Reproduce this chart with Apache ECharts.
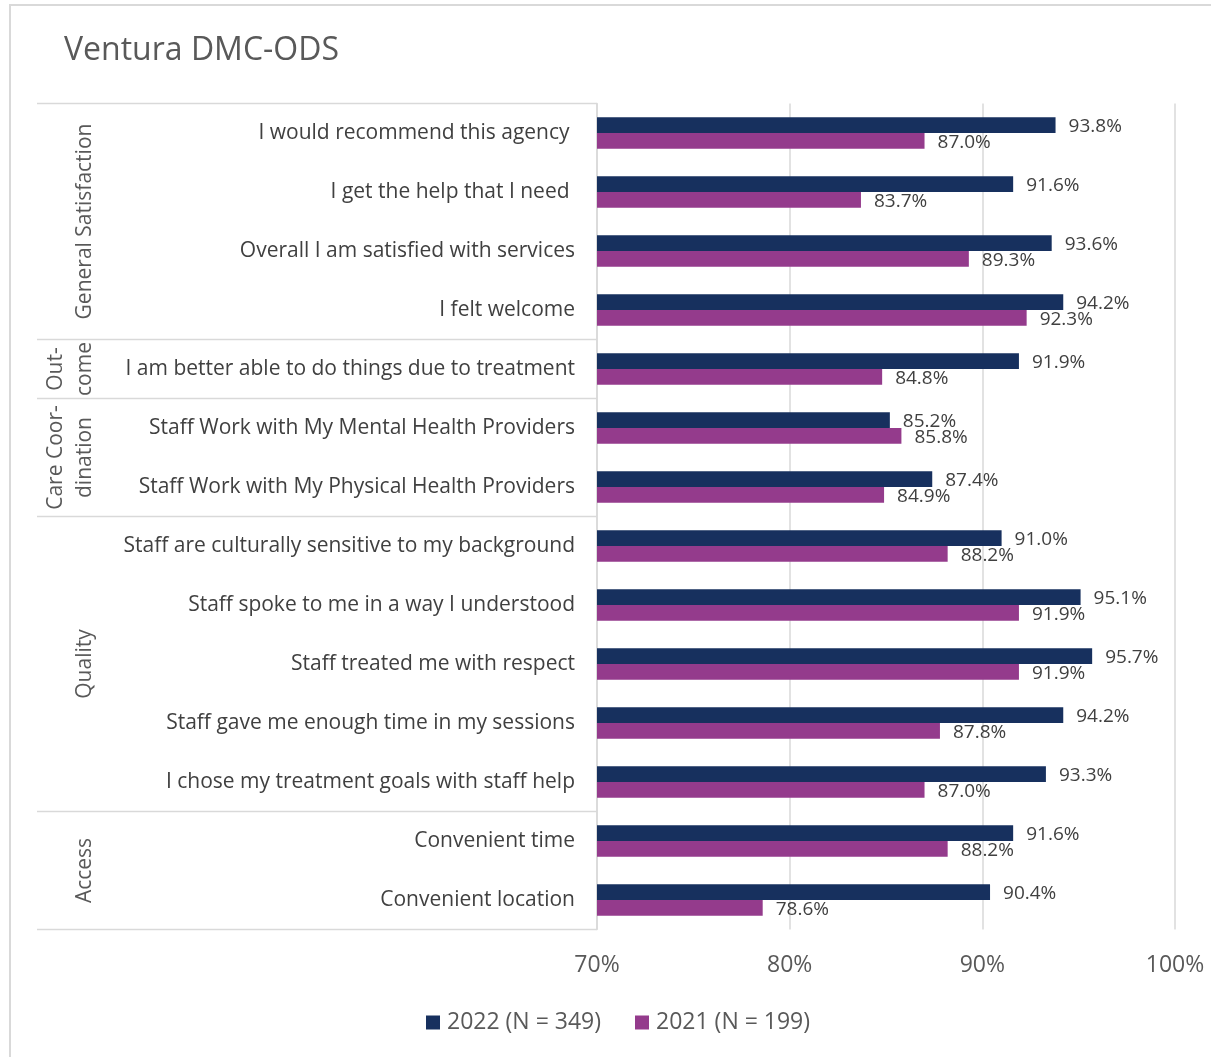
<!DOCTYPE html>
<html>
<head>
<meta charset="utf-8">
<title>Ventura DMC-ODS</title>
<script src="https://cdn.jsdelivr.net/npm/echarts@6/dist/echarts.min.js"></script>
<style>
  html, body { margin: 0; padding: 0; background: #ffffff; }
  #chart { width: 1211px; height: 1057px; }
</style>
</head>
<body>
<div id="chart"></div>
<script>
// Survey items, top to bottom
const categories = [
  'I would recommend this agency ',
  'I get the help that I need ',
  'Overall I am satisfied with services',
  'I felt welcome',
  'I am better able to do things due to treatment',
  'Staff Work with My Mental Health Providers',
  'Staff Work with My Physical Health Providers',
  'Staff are culturally sensitive to my background',
  'Staff spoke to me in a way I understood',
  'Staff treated me with respect',
  'Staff gave me enough time in my sessions',
  'I chose my treatment goals with staff help',
  'Convenient time',
  'Convenient location'
];

// Percent agreeing, by survey year
const values2022 = [93.8, 91.6, 93.6, 94.2, 91.9, 85.2, 87.4, 91.0, 95.1, 95.7, 94.2, 93.3, 91.6, 90.4];
const values2021 = [87.0, 83.7, 89.3, 92.3, 84.8, 85.8, 84.9, 88.2, 91.9, 91.9, 87.8, 87.0, 88.2, 78.6];

const seriesNames = ['2022 (N = 349)', '2021 (N = 199)'];

// Domain groups: label and the first/last item index they cover
const groupNames = ['General Satisfaction', 'Out-\ncome', 'Care Coor-\ndination', 'Quality', 'Access'];
const groupStart = [0, 4, 5, 7, 12];
const groupEnd   = [3, 4, 6, 11, 13];

const xTicks = [70, 80, 90, 100];

const NAVY = '#17305e';
const PURPLE = '#943b8c';
const TEXT = '#404040';
const GRID = '#d9d9d9';
const FONT = '"Open Sans", "Noto Sans", sans-serif';

const chart = echarts.init(document.getElementById('chart'), null, { renderer: 'canvas' });

const valueLabel = {
  show: true,
  position: 'right',
  distance: 13,
  offset: [0, 1.5],
  color: TEXT,
  fontSize: 19,
  fontFamily: FONT,
  formatter: p => p.value.toFixed(1) + '%'
};

chart.setOption({
  animation: false,
  backgroundColor: '#ffffff',
  title: {
    text: 'Ventura DMC-ODS',
    left: 59,
    top: 30,
    textStyle: { color: '#595959', fontSize: 32, fontWeight: 'normal', fontFamily: FONT }
  },
  legend: {
    left: 421,
    top: 1006,
    itemWidth: 14,
    itemHeight: 14,
    itemGap: 34,
    icon: 'rect',
    textStyle: { color: '#595959', fontSize: 23, fontFamily: FONT, padding: [0, 0, 0, 2] },
    data: seriesNames
  },
  grid: { left: 597, right: 36, top: 103.5, bottom: 127.5, containLabel: false },
  xAxis: {
    type: 'value',
    min: xTicks[0],
    max: xTicks[xTicks.length - 1],
    interval: 10,
    axisLine: { show: false },
    axisTick: { show: false },
    splitLine: { show: true, lineStyle: { color: GRID, width: 1.5 } },
    axisLabel: {
      color: '#595959', fontSize: 23, fontFamily: FONT, margin: 24,
      formatter: '{value}%'
    }
  },
  yAxis: {
    type: 'category',
    inverse: true,
    data: categories,
    axisLine: { show: true, lineStyle: { color: GRID, width: 1.5 } },
    axisTick: { show: false },
    axisLabel: { color: TEXT, fontSize: 21, fontFamily: FONT, margin: 22 }
  },
  series: [
    {
      name: seriesNames[0], type: 'bar', data: values2022,
      itemStyle: { color: NAVY },
      barGap: '0%', barCategoryGap: '47%',
      label: valueLabel
    },
    {
      name: seriesNames[1], type: 'bar', data: values2021,
      itemStyle: { color: PURPLE },
      barGap: '0%', barCategoryGap: '47%',
      label: valueLabel
    }
  ]
});

// Domain group labels and separators to the left of the item labels
function drawGroups() {
  const c0 = chart.convertToPixel({ yAxisIndex: 0 }, 0);
  const c1 = chart.convertToPixel({ yAxisIndex: 0 }, 1);
  const band = c1 - c0;
  const axisX = chart.convertToPixel({ xAxisIndex: 0 }, xTicks[0]);
  const elements = [];

  // outer frame
  elements.push({
    type: 'rect', silent: true,
    shape: { x: 10, y: 5, width: 1400, height: 1200 },
    style: { fill: null, stroke: '#d9d9d9', lineWidth: 2 }
  });

  const boundaries = [c0 - band / 2];
  groupEnd.forEach(e => boundaries.push(chart.convertToPixel({ yAxisIndex: 0 }, e) + band / 2));
  boundaries.forEach(y => {
    elements.push({
      type: 'line', silent: true,
      shape: { x1: 37, y1: y, x2: axisX, y2: y },
      style: { stroke: GRID, lineWidth: 1.5 }
    });
  });

  groupNames.forEach((name, i) => {
    const yTop = chart.convertToPixel({ yAxisIndex: 0 }, groupStart[i]) - band / 2;
    const yBot = chart.convertToPixel({ yAxisIndex: 0 }, groupEnd[i]) + band / 2;
    const lines = name.split('\n').length;
    elements.push({
      type: 'text', silent: true,
      x: 85 - (lines - 1) * 14.5,
      y: (yTop + yBot) / 2,
      rotation: Math.PI / 2,
      style: {
        text: name,
        fill: '#595959',
        font: '21px ' + FONT,
        align: 'center',
        verticalAlign: 'middle',
        lineHeight: 29
      }
    });
  });

  chart.setOption({ graphic: { elements } });
}
drawGroups();
</script>
</body>
</html>
